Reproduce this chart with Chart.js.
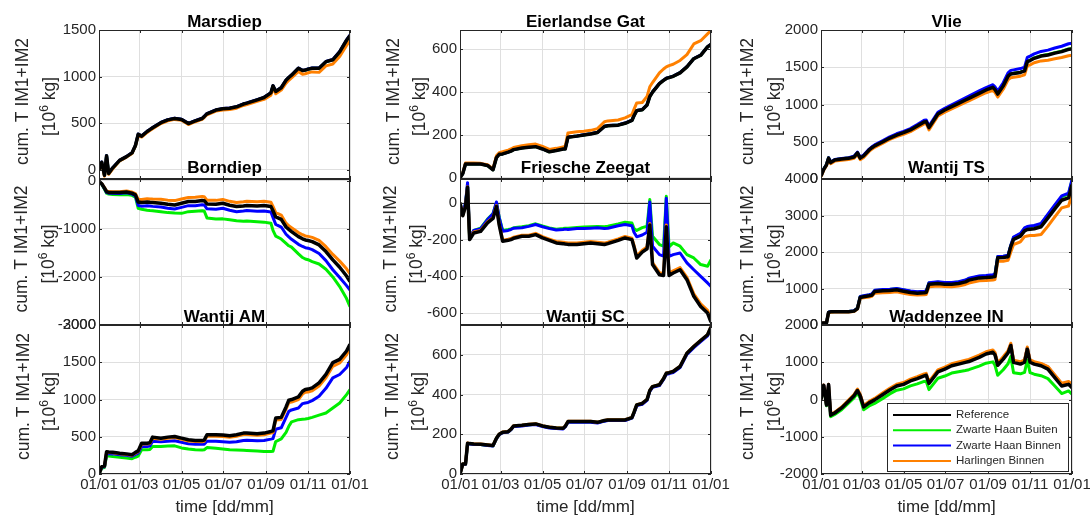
<!DOCTYPE html>
<html>
<head>
<meta charset="utf-8">
<script src="https://cdn.jsdelivr.net/npm/chart.js@4.4.1/dist/chart.umd.min.js"></script>
<style>
  html, body { margin: 0; padding: 0; background: #fff; overflow: hidden; }
  body { position: relative; width: 1090px; height: 515px; }
</style>
</head>
<body>
<script>
// sample days (day of year) shared by all series
const days = [0, 4, 8, 11, 14, 20, 30, 40, 48, 53, 57, 62, 70, 74, 78, 90, 100, 110, 120, 130,
  140, 150, 153, 157, 170, 180, 190, 200, 210, 215, 230, 240, 250, 253, 257, 265, 272, 276, 280, 290,
  296, 300, 304, 310, 320, 330, 340, 350, 360, 365];
const monthDays = [0, 59, 120, 181, 243, 304, 365];
const monthLabels = ['01/01', '01/03', '01/05', '01/07', '01/09', '01/11', '01/01'];

// Marsdiep
const marsRef = [0,80,-60,150,-40,20,100,140,180,260, 380,360,410,430,450,505,535,550,540,495, 525,550,570,600,640,655,660,675,705,715, 750,775,825,900,840,880,960,990,1015,1090, 1065,1070,1080,1090,1090,1160,1180,1265,1390,1440];
const marsBuiten = [0,79,-61,149,-41,19,99,139,179,259, 379,359,409,429,449,504,534,549,539,494, 524,549,569,599,639,654,659,674,704,714, 749,774,824,899,839,879,959,989,1014,1089, 1064,1069,1079,1089,1089,1159,1179,1264,1389,1439];
const marsBinnen = [0,81,-59,151,-39,21,101,141,181,261, 382,362,412,432,452,507,537,552,542,497, 527,552,572,602,642,657,662,677,707,717, 752,777,827,902,842,882,962,992,1017,1092, 1067,1072,1082,1092,1092,1162,1183,1268,1393,1445];
const marsHarl = [0,70,-70,130,-50,10,95,135,175,255, 370,350,400,420,440,495,525,540,530,485, 515,540,560,590,630,640,645,660,690,700, 735,755,800,880,815,855,930,960,985,1055, 1025,1030,1040,1050,1045,1115,1135,1215,1335,1385];

// Eierlandse Gat
const eierRef = [0,20,65,65,65,65,65,58,38,95, 110,112,120,125,132,140,143,146,135,122, 128,135,135,190,195,200,205,212,240,243, 246,255,268,290,314,318,340,380,400,440, 455,464,468,474,490,518,556,572,611,623];
const eierBuiten = [0,20,65,65,65,65,65,58,38,95, 111,112,121,125,133,140,144,146,136,122, 129,135,136,190,196,200,206,212,241,243, 247,255,269,290,315,318,341,380,401,440, 456,464,469,474,491,518,557,572,612,623];
const eierBinnen = [0,20,66,66,66,66,66,59,39,96, 111,113,121,126,133,141,144,147,136,123, 129,136,136,191,196,201,206,213,241,244, 247,256,269,291,315,319,341,381,401,441, 456,465,469,475,491,519,557,573,612,624];
const eierHarl = [0,22,70,70,70,70,68,62,42,103, 118,122,130,135,142,150,155,158,147,133, 138,145,146,210,215,218,222,230,262,266, 270,280,295,320,350,352,380,425,445,490, 508,518,524,530,548,575,625,640,672,688];

// Vlie
const vlieRef = [40,130,190,280,220,255,268,277,295,350, 280,310,390,420,445,500,550,590,622,658, 711,765,770,690,872,926,971,1016,1060,1082, 1150,1195,1230,1200,1140,1250,1380,1410,1415,1430, 1450,1575,1590,1620,1650,1665,1690,1710,1740,1745];
const vlieBuiten = [44,134,194,284,224,259,272,281,299,354, 284,314,394,424,449,504,554,594,626,662, 715,769,774,694,876,930,975,1020,1064,1086, 1154,1199,1234,1204,1144,1254,1384,1414,1419,1434, 1455,1580,1595,1625,1655,1670,1696,1716,1746,1751];
const vlieBinnen = [45,135,195,285,228,262,275,285,305,360, 292,322,402,432,458,515,566,607,640,677, 731,788,792,712,895,950,997,1043,1089,1112, 1182,1228,1266,1238,1180,1292,1425,1458,1465,1482, 1500,1632,1650,1680,1712,1730,1758,1782,1815,1822];
const vlieHarl = [30,120,180,265,205,240,252,260,278,330, 260,290,370,400,425,482,532,570,600,635, 688,740,745,660,846,898,942,985,1028,1050, 1115,1158,1190,1160,1100,1205,1330,1360,1365,1380, 1398,1520,1532,1560,1585,1595,1615,1630,1655,1660];

// Borndiep
const bornRef = [-10,-60,-150,-225,-240,-243,-243,-230,-255,-290, -440,-450,-437,-445,-450,-465,-486,-500,-465,-430, -430,-409,-412,-479,-486,-465,-507,-534,-520,-510, -520,-514,-534,-620,-750,-800,-960,-1010,-1055,-1159, -1205,-1229,-1240,-1263,-1333,-1471,-1645,-1798,-1979,-2096];
const bornBuiten = [-10,-70,-175,-255,-275,-285,-290,-285,-300,-340, -570,-590,-610,-618,-620,-640,-660,-670,-675,-640, -630,-620,-625,-770,-795,-790,-810,-830,-838,-835, -850,-858,-880,-1030,-1150,-1210,-1300,-1350,-1380,-1520, -1595,-1625,-1640,-1680,-1730,-1840,-2000,-2200,-2450,-2620];
const bornBinnen = [-10,-65,-160,-240,-255,-258,-260,-248,-275,-315, -510,-525,-515,-522,-530,-545,-568,-585,-550,-515, -515,-495,-500,-580,-590,-570,-612,-640,-628,-618, -630,-625,-645,-760,-905,-960,-1110,-1165,-1215,-1320, -1365,-1390,-1400,-1430,-1510,-1660,-1850,-2010,-2180,-2275];
const bornHarl = [-10,-55,-140,-210,-222,-225,-225,-210,-232,-265, -380,-385,-370,-375,-378,-382,-400,-410,-375,-345, -340,-325,-328,-400,-405,-385,-425,-450,-435,-425, -432,-425,-445,-530,-660,-710,-880,-935,-975,-1075, -1120,-1145,-1155,-1175,-1240,-1370,-1530,-1670,-1830,-1936];

// Friesche Zeegat
const friesRef = [0,-70,-20,85,-200,-164,-155,-109,-85,-20, -120,-209,-204,-200,-193,-182,-182,-173,-191,-204, -218,-222,-224,-226,-227,-222,-218,-222,-227,-222, -204,-191,-200,-240,-300,-268,-250,-120,-336,-391, -395,-130,-395,-382,-364,-418,-509,-564,-600,-650];
const friesBuiten = [0,-65,-5,95,-195,-150,-138,-88,-58,0, -78,-150,-145,-142,-136,-130,-124,-114,-126,-136, -143,-140,-138,-138,-134,-132,-130,-128,-130,-127, -115,-105,-109,-140,-150,-135,-127,18,-182,-227, -236,36,-240,-218,-236,-282,-300,-336,-345,-309];
const friesBinnen = [0,-60,0,110,-190,-150,-140,-91,-60,5, -80,-155,-150,-145,-138,-135,-128,-118,-130,-140, -148,-145,-143,-145,-140,-140,-138,-136,-140,-138, -125,-118,-125,-160,-185,-175,-160,5,-236,-282, -290,25,-292,-282,-273,-327,-364,-400,-436,-455];
const friesHarl = [0,-68,-18,88,-195,-158,-150,-104,-80,-15, -115,-203,-198,-194,-187,-176,-176,-166,-184,-197, -210,-214,-216,-218,-219,-214,-210,-214,-219,-214, -196,-183,-192,-230,-290,-258,-240,-112,-325,-380, -384,-120,-384,-370,-352,-405,-495,-550,-585,-630];

// Wantij TS
const tsRef = [45,55,60,345,360,364,364,364,380,450, 755,775,800,820,915,936,945,964,927,891, 873,882,890,1115,1136,1118,1118,1136,1182,1230, 1291,1300,1318,1330,1845,1850,1870,2150,2345,2436, 2580,2618,2625,2636,2691,2936,3182,3418,3482,3845];
const tsBuiten = [45,55,61,350,366,370,370,370,386,458, 778,798,825,843,942,962,972,992,957,922, 904,914,922,1150,1172,1155,1155,1175,1222,1268, 1333,1342,1362,1377,1870,1875,1905,2175,2398,2495, 2645,2685,2695,2710,2770,3015,3270,3512,3585,3960];
const tsBinnen = [45,55,62,352,368,372,372,372,390,462, 785,805,832,850,950,970,980,1000,965,930, 912,922,930,1160,1182,1165,1165,1185,1232,1280, 1345,1355,1375,1390,1880,1885,1915,2185,2410,2510, 2660,2700,2710,2725,2785,3035,3290,3535,3610,3985];
const tsHarl = [45,55,58,338,352,356,356,355,372,440, 730,745,768,785,870,885,892,910,872,838, 820,828,835,1050,1070,1052,1050,1068,1110,1150, 1210,1220,1235,1248,1745,1748,1772,2000,2205,2280, 2420,2440,2450,2455,2480,2710,2960,3210,3260,3575];

// Wantij AM
const amRef = [0,99,108,300,295,292,279,270,258,290, 310,414,414,420,495,481,495,504,481,459, 450,450,455,526,526,522,513,526,549,549, 540,549,571,580,751,760,900,990,999,1035, 1110,1134,1140,1156,1224,1336,1494,1539,1651,1741];
const amBuiten = [0,80,88,245,242,234,225,215,205,225, 240,324,325,330,369,370,375,378,350,335, 325,322,325,355,345,335,325,322,318,315, 308,302,302,305,436,470,560,640,700,729, 735,738,745,760,790,819,886,954,1066,1134];
const amBinnen = [0,90,98,275,272,270,258,250,238,262, 280,369,370,375,440,432,440,446,425,405, 398,398,400,440,438,432,425,432,450,452, 445,450,468,475,600,620,760,840,860,885, 945,954,960,985,1044,1150,1290,1336,1430,1516];
const amHarl = [0,97,105,292,287,284,271,262,250,281, 300,402,402,408,481,467,480,489,466,444, 435,434,439,508,508,503,494,507,529,529, 519,528,549,557,725,733,870,958,966,1000, 1073,1096,1101,1116,1182,1291,1446,1490,1600,1696];

// Wantij SC
const scRef = [0,50,50,155,153,151,150,146,143,180, 200,210,213,225,242,245,249,252,242,235, 232,230,240,264,264,264,264,260,269,272, 272,272,284,310,348,355,375,420,440,449, 480,507,510,516,541,608,642,672,701,740];
const scBuiten = [0,49,50,154,152,150,149,145,142,179, 199,209,212,224,241,244,248,251,241,234, 231,229,239,263,263,263,263,259,268,271, 271,271,283,309,347,354,374,419,439,448, 479,505,508,514,539,606,640,670,699,737];
const scBinnen = [0,49,49,153,151,149,148,144,141,178, 198,208,211,222,239,242,246,249,239,232, 229,227,237,261,261,261,261,257,266,269, 269,269,281,306,344,351,371,416,436,445, 476,502,505,511,536,602,636,666,695,734];
const scHarl = [0,50,51,156,154,152,151,147,144,181, 201,211,214,226,243,246,250,253,243,236, 233,231,241,265,265,265,265,261,270,273, 273,273,285,311,349,356,376,421,441,450, 481,508,511,517,542,609,643,673,702,741];

// Waddenzee IN
const waddRef = [0,380,-150,400,-420,-362,-226,-45,100,240, 100,-200,-90,-50,-10,136,253,362,407,498, 561,634,650,430,742,815,905,950,996,1020, 1131,1222,1267,1200,920,1086,1250,1450,996,950, 1000,1350,1000,950,905,815,588,362,407,317];
const waddBuiten = [0,340,-170,370,-460,-400,-275,-100,40,175, 30,-275,-175,-140,-105,30,150,250,285,365, 420,485,490,265,570,630,710,745,780,800, 895,975,1010,920,650,800,960,1150,720,690, 730,1060,720,680,640,560,360,160,230,140];
const waddBinnen = [0,385,-145,405,-410,-352,-215,-32,115,258, 120,-182,-72,-32,8,155,273,383,430,521, 585,658,675,455,767,841,932,977,1023,1047, 1158,1250,1295,1230,950,1116,1282,1480,1030,985, 1036,1385,1038,990,955,870,645,420,465,375];
const waddHarl = [0,390,-140,410,-400,-340,-200,-15,135,280, 140,-160,-50,-10,30,180,300,410,455,548, 612,686,702,480,795,870,960,1006,1053,1078, 1190,1282,1328,1262,982,1148,1312,1510,1058,1012, 1063,1410,1063,1015,970,885,660,440,485,400];

const seriesNames = ['Reference', 'Zwarte Haan Buiten', 'Zwarte Haan Binnen', 'Harlingen Binnen'];
const seriesColors = ['#000000', '#00ee00', '#0000ff', '#ff8000'];

const FAM = "'Liberation Sans', Arial, sans-serif";
const AXIS = '#262626';

const colLeft = [99, 460, 821];
const rowTop = [30, 179, 325];
const rowH = [149, 146, 149];
const titleGap = [3, 6, 3];

const panels = [
  {title: 'Marsdiep', col: 0, row: 0, ymin: -100, ymax: 1500, yticks: [0, 500, 1000, 1500], s: [marsRef, marsBuiten, marsBinnen, marsHarl], lab: [-71, -44]},
  {title: 'Eierlandse Gat', col: 1, row: 0, ymin: -5, ymax: 690, yticks: [0, 200, 400, 600], s: [eierRef, eierBuiten, eierBinnen, eierHarl], lab: [-61, -35]},
  {title: 'Vlie', col: 2, row: 0, ymin: 0, ymax: 2000, yticks: [0, 500, 1000, 1500, 2000], s: [vlieRef, vlieBuiten, vlieBinnen, vlieHarl], lab: [-68, -41]},
  {title: 'Borndiep', col: 0, row: 1, ymin: -3000, ymax: 40, yticks: [-3000, -2000, -1000, 0], s: [bornRef, bornBuiten, bornBinnen, bornHarl], lab: [-72, -45]},
  {title: 'Friesche Zeegat', col: 1, row: 1, ymin: -665, ymax: 130, yticks: [-600, -400, -200, 0], s: [friesRef, friesBuiten, friesBinnen, friesHarl], lab: [-64, -38], zeroLine: true},
  {title: 'Wantij TS', col: 2, row: 1, ymin: 0, ymax: 4000, yticks: [0, 1000, 2000, 3000, 4000], s: [tsRef, tsBuiten, tsBinnen, tsHarl], lab: [-68, -41]},
  {title: 'Wantij AM', col: 0, row: 2, ymin: 0, ymax: 2000, yticks: [0, 500, 1000, 1500, 2000], s: [amRef, amBuiten, amBinnen, amHarl], lab: [-70, -44]},
  {title: 'Wantij SC', col: 1, row: 2, ymin: 0, ymax: 750, yticks: [0, 200, 400, 600], s: [scRef, scBuiten, scBinnen, scHarl], lab: [-62, -36]},
  {title: 'Waddenzee IN', col: 2, row: 2, ymin: -2000, ymax: 2000, yticks: [-2000, -1000, 0, 1000, 2000], s: [waddRef, waddBuiten, waddBinnen, waddHarl], lab: [-68, -41], legend: true},
];

function line(ctx, x1, y1, x2, y2) {
  ctx.beginPath();
  ctx.moveTo(x1, y1);
  ctx.lineTo(x2, y2);
  ctx.stroke();
}

// frame, inward ticks, titles, axis labels and legend (MATLAB look)
const panelDeco = {
  id: 'panelDeco',
  beforeDatasetsDraw(chart, args, opts) {
    if (!opts.zeroLine) return;
    const {ctx, chartArea: a} = chart;
    const y0 = Math.round(chart.scales.y.getPixelForValue(0)) + 0.5;
    ctx.save();
    ctx.strokeStyle = AXIS;
    ctx.lineWidth = 1;
    line(ctx, a.left, y0, a.right, y0);
    ctx.restore();
  },
  afterDraw(chart, args, opts) {
    const {ctx, chartArea: a, scales} = chart;
    ctx.save();
    ctx.strokeStyle = AXIS;
    ctx.lineWidth = 1;
    ctx.strokeRect(a.left + 0.5, a.top + 0.5, a.width - 1, a.height - 1);

    scales.x.ticks.forEach(t => {
      const x = Math.round(scales.x.getPixelForValue(t.value)) + 0.5;
      line(ctx, x, a.top, x, a.top + 3);
      line(ctx, x, a.bottom, x, a.bottom - 3);
    });
    scales.y.ticks.forEach(t => {
      const y = Math.round(scales.y.getPixelForValue(t.value)) + 0.5;
      line(ctx, a.left, y, a.left + 3, y);
      line(ctx, a.right, y, a.right - 3, y);
    });

    // title
    const cx = (a.left + a.right) / 2;
    ctx.fillStyle = '#000';
    ctx.font = 'bold 17px ' + FAM;
    ctx.textAlign = 'center';
    ctx.textBaseline = 'alphabetic';
    ctx.fillText(opts.title, cx, a.top - opts.titleGap);

    // y label, two lines rotated
    const cy = (a.top + a.bottom) / 2;
    ctx.fillStyle = AXIS;
    ctx.save();
    ctx.translate(a.left + opts.lab[0], cy - 3);
    ctx.rotate(-Math.PI / 2);
    ctx.font = '17.5px ' + FAM;
    ctx.fillText('cum. T IM1+IM2', 0, 0);
    ctx.restore();

    ctx.save();
    ctx.translate(a.left + opts.lab[1], cy + 2);
    ctx.rotate(-Math.PI / 2);
    ctx.textAlign = 'left';
    ctx.font = '17.5px ' + FAM;
    const w1 = ctx.measureText('[10').width;
    const w3 = ctx.measureText(' kg]').width;
    ctx.font = '12px ' + FAM;
    const w2 = ctx.measureText('6').width;
    const x0 = -(w1 + w2 + w3) / 2;
    ctx.font = '17.5px ' + FAM;
    ctx.fillText('[10', x0, 0);
    ctx.font = '12px ' + FAM;
    ctx.fillText('6', x0 + w1, -7);
    ctx.font = '17.5px ' + FAM;
    ctx.fillText(' kg]', x0 + w1 + w2, 0);
    ctx.restore();

    // x label on the bottom row
    if (opts.xLabel) {
      ctx.font = '17px ' + FAM;
      ctx.textAlign = 'center';
      ctx.fillText('time [dd/mm]', cx, a.bottom + 38);
    }

    if (opts.legend) {
      const bx = a.left + 66, by = a.top + 78, bw = 181, bh = 68;
      ctx.fillStyle = '#fff';
      ctx.fillRect(bx, by, bw, bh);
      ctx.strokeStyle = AXIS;
      ctx.strokeRect(bx + 0.5, by + 0.5, bw, bh);
      ctx.font = '11.5px ' + FAM;
      ctx.textAlign = 'left';
      ctx.textBaseline = 'middle';
      seriesNames.forEach((name, i) => {
        const y = by + 12 + i * 15.3;
        ctx.strokeStyle = seriesColors[i];
        ctx.lineWidth = 2;
        line(ctx, bx + 6, y, bx + 64, y);
        ctx.fillStyle = AXIS;
        ctx.fillText(name, bx + 69, y);
      });
    }
    ctx.restore();
  }
};

function makePanel(p) {
  const padL = 96, padT = 30, padR = 24;
  const bottomRow = p.row === 2;
  const padB = bottomRow ? 41 : 14;
  const L = colLeft[p.col], T = rowTop[p.row], H = rowH[p.row];
  const w = padL + 251 + padR, h = padT + H + padB;

  const canvas = document.createElement('canvas');
  canvas.width = w;
  canvas.height = h;
  canvas.style.cssText = `position:absolute;left:${L - padL}px;top:${T - padT}px;width:${w}px;height:${h}px`;
  document.body.appendChild(canvas);

  // reference first in datasets so it is drawn on top
  const order = [0, 3, 2, 1];
  const datasets = order.map(k => ({
    label: seriesNames[k],
    data: p.s[k],
    borderColor: seriesColors[k],
    borderWidth: k === 0 ? 3.5 : 3,
    pointRadius: 0,
    tension: 0,
    borderJoinStyle: 'round',
    fill: false
  }));

  new Chart(canvas, {
    type: 'line',
    data: {labels: days, datasets: datasets},
    options: {
      responsive: false,
      animation: false,
      devicePixelRatio: 1,
      layout: {padding: {left: padL - 60, top: padT, right: padR, bottom: bottomRow ? 0 : padB}},
      scales: {
        x: {
          type: 'linear',
          min: 0,
          max: 365,
          afterBuildTicks: s => { s.ticks = monthDays.map(v => ({value: v})); },
          afterFit: s => { s.height = bottomRow ? 41 : 0; },
          ticks: {
            display: bottomRow,
            autoSkip: false,
            maxRotation: 0,
            padding: 2,
            color: AXIS,
            font: {size: 15, family: FAM},
            callback: (v, i) => monthLabels[i]
          },
          grid: {color: '#dfdfdf', drawTicks: false},
          border: {display: false}
        },
        y: {
          min: p.ymin,
          max: p.ymax,
          afterBuildTicks: s => { s.ticks = p.yticks.map(v => ({value: v})); },
          afterFit: s => { s.width = 60; },
          ticks: {
            padding: 3,
            color: AXIS,
            font: {size: 15, family: FAM},
            callback: v => String(v)
          },
          grid: {color: '#dfdfdf', drawTicks: false},
          border: {display: false}
        }
      },
      plugins: {
        legend: {display: false},
        tooltip: {enabled: false},
        panelDeco: {
          title: p.title,
          titleGap: titleGap[p.row],
          lab: p.lab,
          xLabel: bottomRow,
          legend: !!p.legend,
          zeroLine: !!p.zeroLine
        }
      }
    },
    plugins: [panelDeco]
  });
}

panels.forEach(makePanel);
</script>
</body>
</html>
